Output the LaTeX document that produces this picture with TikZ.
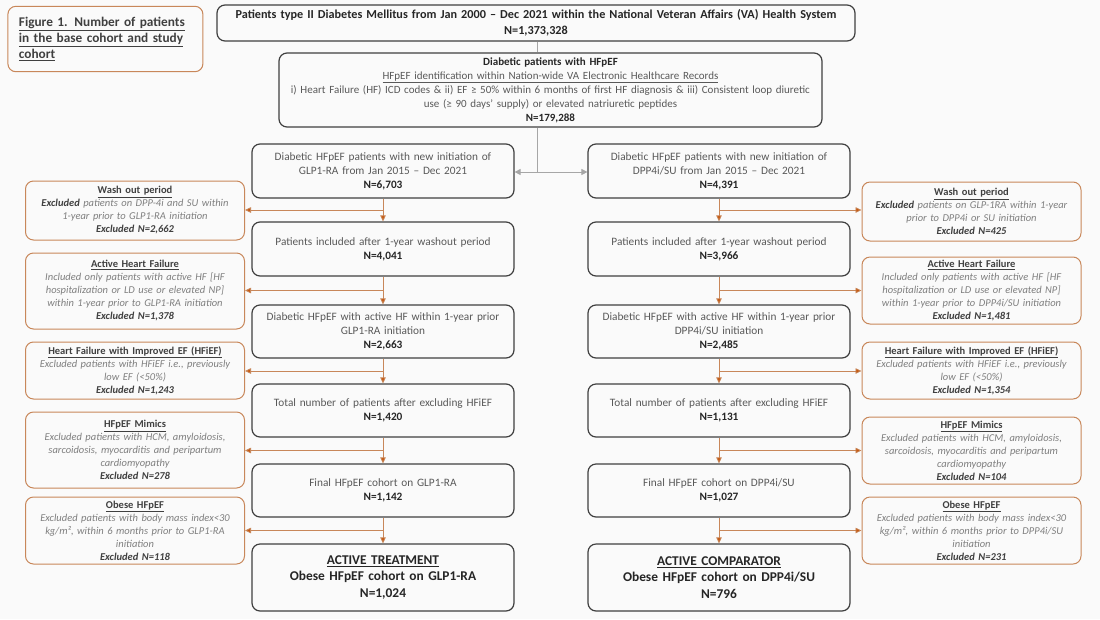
\documentclass[tikz,border=0pt]{standalone}
\usepackage{fontspec}
\setmainfont{Carlito}
\usetikzlibrary{positioning,arrows.meta,calc}
\definecolor{paper}{HTML}{FAFAFA}
\definecolor{boxline}{HTML}{404040}
\definecolor{bodytext}{HTML}{595959}
\definecolor{darktext}{HTML}{262626}
\definecolor{exline}{HTML}{C8875A}
\definecolor{exarrow}{HTML}{C55A11}
\definecolor{extext}{HTML}{7F7F7F}
\definecolor{splitline}{HTML}{A6A6A6}
\newcommand\nval[1]{{\bfseries\color{darktext}#1}}
\newcommand\exhead[1]{{\upshape\bfseries\color{boxline}\underline{#1}}}
\newcommand\exnum[1]{{\bfseries\color{boxline}Excluded N=#1}}
\tikzset{
  mainbox/.style={draw=boxline,line width=1.2pt,rounded corners=8pt,inner sep=4pt,
    minimum width=262pt,text width=254pt,align=center,text=bodytext,
    font=\fontsize{11.3}{14}\selectfont},
  endbox/.style={mainbox,minimum height=67pt,text=darktext,
    font=\fontsize{13.4}{16.5}\selectfont\bfseries},
  exclbox/.style={draw=exline,line width=1pt,rounded corners=8pt,inner sep=3pt,
    minimum width=219pt,text width=213pt,align=center,text=extext,
    font=\fontsize{10.5}{13}\selectfont\itshape},
  figbox/.style={draw=exline,line width=1pt,rounded corners=8pt,inner sep=11pt,
    minimum width=195pt,minimum height=58pt,text width=173pt,align=left,text=boxline,
    font=\fontsize{13.3}{16}\selectfont\bfseries},
  grayarrow/.style={draw=splitline,line width=.8pt,-{Triangle[length=6pt,width=6pt]}},
  grayline/.style={draw=splitline,line width=.8pt},
  orangearrow/.style={draw=exline,line width=.8pt,-{Triangle[length=6pt,width=5.5pt,fill=exarrow]}}
}
\begin{document}
\begin{tikzpicture}[x=1pt,y=-1pt]
\useasboundingbox[fill=paper] (0,0) rectangle (1100,619);

% header boxes
\node[figbox] (fig) at (105.4,39) {\underline{Figure 1. Number of patients}\\\underline{in the base cohort and study}\\\underline{cohort}};
\node[mainbox,minimum width=638pt,text width=630pt,minimum height=36pt,text=darktext,
  font=\fontsize{12.2}{16}\selectfont\bfseries] (base) at (536,23)
  {Patients type II Diabetes Mellitus from Jan 2000 – Dec 2021 within the National Veteran Affairs (VA) Health System\\N=1,373,328};
\node[mainbox,minimum width=543pt,text width=535pt,minimum height=74pt,
  font=\fontsize{11}{14}\selectfont] (hfpef) at (550.5,90)
  {\nval{Diabetic patients with HFpEF}\\\underline{HFpEF identification within Nation-wide VA Electronic Healthcare Records}\\
   i) Heart Failure (HF) ICD codes \& ii) EF ≥ 50\% within 6 months of first HF diagnosis \& iii) Consistent loop diuretic\\
   use (≥ 90 days’ supply) or elevated natriuretic peptides\\\nval{N=179,288}};

% GLP1-RA arm
\node[mainbox,minimum height=54pt] (l1) at (383,171) {Diabetic HFpEF patients with new initiation of\\GLP1-RA from Jan 2015 – Dec 2021\\\nval{N=6,703}};
\node[mainbox,minimum height=54pt] (l2) at (383,249) {Patients included after 1-year washout period\\\nval{N=4,041}};
\node[mainbox,minimum height=53pt] (l3) at (383,331.5) {Diabetic HFpEF with active HF within 1-year prior\\GLP1-RA initiation\\\nval{N=2,663}};
\node[mainbox,minimum height=53pt] (l4) at (383,410.5) {Total number of patients after excluding HFiEF\\\nval{N=1,420}};
\node[mainbox,minimum height=53pt] (l5) at (383,490.5) {Final HFpEF cohort on GLP1-RA\\\nval{N=1,142}};
\node[endbox] (l6) at (383,577.5) {\underline{ACTIVE TREATMENT}\\Obese HFpEF cohort on GLP1-RA\\N=1,024};

\node[exclbox,minimum height=59pt] (le1) at (135,210.5) {\exhead{Wash out period}\\{\bfseries\color{boxline}Excluded} patients on DPP-4i and SU within\\1-year prior to GLP1-RA initiation\\\exnum{2,662}};
\node[exclbox,minimum height=76pt] (le2) at (135,291) {\exhead{Active Heart Failure}\\Included only patients with active HF [HF\\hospitalization or LD use or elevated NP]\\within 1-year prior to GLP1-RA initiation\\\exnum{1,378}};
\node[exclbox,minimum height=57pt] (le3) at (135,370.5) {\exhead{Heart Failure with Improved EF (HFiEF)}\\Excluded patients with HFiEF i.e., previously\\low EF (<50\%)\\\exnum{1,243}};
\node[exclbox,minimum height=76pt] (le4) at (135,450) {\exhead{HFpEF Mimics}\\Excluded patients with HCM, amyloidosis,\\sarcoidosis, myocarditis and peripartum\\cardiomyopathy\\\exnum{278}};
\node[exclbox,minimum height=67pt] (le5) at (135,530.5) {\exhead{Obese HFpEF}\\Excluded patients with body mass index<30\\kg/m², within 6 months prior to GLP1-RA\\initiation\\\exnum{118}};

% DPP4i/SU arm
\node[mainbox,minimum height=54pt] (r1) at (719,171) {Diabetic HFpEF patients with new initiation of\\DPP4i/SU from Jan 2015 – Dec 2021\\\nval{N=4,391}};
\node[mainbox,minimum height=54pt] (r2) at (719,249) {Patients included after 1-year washout period\\\nval{N=3,966}};
\node[mainbox,minimum height=53pt] (r3) at (719,331.5) {Diabetic HFpEF with active HF within 1-year prior\\DPP4i/SU initiation\\\nval{N=2,485}};
\node[mainbox,minimum height=53pt] (r4) at (719,410.5) {Total number of patients after excluding HFiEF\\\nval{N=1,131}};
\node[mainbox,minimum height=53pt] (r5) at (719,490.5) {Final HFpEF cohort on DPP4i/SU\\\nval{N=1,027}};
\node[endbox] (r6) at (719,577.5) {\underline{ACTIVE COMPARATOR}\\Obese HFpEF cohort on DPP4i/SU\\N=796};

\node[exclbox,minimum height=59pt] (re1) at (971.5,211.5) {\exhead{Wash out period}\\{\bfseries\color{boxline}Excluded} patients on GLP-1RA within 1-year\\prior to DPP4i or SU initiation\\\exnum{425}};
\node[exclbox,minimum height=67pt] (re2) at (971.5,290.5) {\exhead{Active Heart Failure}\\Included only patients with active HF [HF\\hospitalization or LD use or elevated NP]\\within 1-year prior to DPP4i/SU initiation\\\exnum{1,481}};
\node[exclbox,minimum height=57pt] (re3) at (971.5,370.5) {\exhead{Heart Failure with Improved EF (HFiEF)}\\Excluded patients with HFiEF i.e., previously\\low EF (<50\%)\\\exnum{1,354}};
\node[exclbox,minimum height=67pt] (re4) at (971.5,450.5) {\exhead{HFpEF Mimics}\\Excluded patients with HCM, amyloidosis,\\sarcoidosis, myocarditis and peripartum\\cardiomyopathy\\\exnum{104}};
\node[exclbox,minimum height=67pt] (re5) at (971.5,530.5) {\exhead{Obese HFpEF}\\Excluded patients with body mass index<30\\kg/m², within 6 months prior to DPP4i/SU\\initiation\\\exnum{231}};

% split into the two arms
\coordinate (split) at (537,172);
\draw[grayline] (base.south -| split) -- (hfpef.north -| split);
\draw[grayline] (hfpef.south -| split) -- (split);
\draw[grayarrow] (split) -- (split -| l1.east);
\draw[grayarrow] (split) -- (split -| r1.west);

% flow down each arm, exclusions branch out
\foreach \a/\b/\e in {1/2/1,2/3/2,3/4/3,4/5/4,5/6/5} {
  \draw[orangearrow] (l\a) -- (l\b);
  \coordinate (lm\a) at ($(l\a.south)!0.5!(l\b.north)$);
  \draw[orangearrow] (lm\a) -- (lm\a -| le\e.east);
  \draw[orangearrow] (r\a) -- (r\b);
  \coordinate (rm\a) at ($(r\a.south)!0.5!(r\b.north)$);
  \draw[orangearrow] (rm\a) -- (rm\a -| re\e.west);
}
\end{tikzpicture}
\end{document}
